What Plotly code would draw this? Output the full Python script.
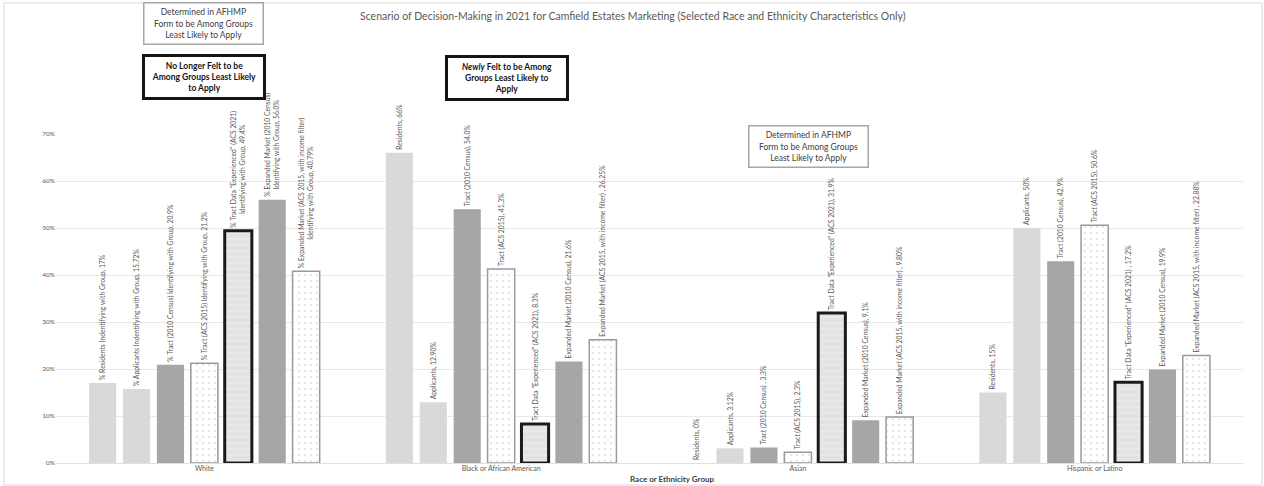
import plotly.graph_objects as go

# Race / ethnicity groups on the category axis
categories = ["White", "Black or African American", "Asian", "Hispanic or Latino"]

# Percent of each group, one list per measure (kept as text so labels quote them exactly)
residents = ["17", "66", "0", "15"]
applicants = ["15.72", "12.90", "3.12", "50"]
tract_2010 = ["20.9", "54.0", "3.3", "42.9"]
tract_acs2015 = ["21.2", "41.3", "2.3", "50.6"]
tract_experienced = ["49.4", "8.3", "31.9", "17.2"]
expanded_2010 = ["56.0", "21.6", "9.1", "19.9"]
expanded_acs2015 = ["40.79", "26.25", "9.80", "22.88"]

# Label wording for each measure, per group
residents_lbl = ["% Residents Indentifying with Group, ", "Residents, ", "Residents, ", "Residents, "]
applicants_lbl = ["% Applicants Indentifying with Group, ", "Applicants, ", "Applicants, ", "Applicants, "]
tract_2010_lbl = ["% Tract (2010 Census) Identifying with Group, ", "Tract (2010 Census), ",
                  "Tract (2010 Census) , ", "Tract (2010 Census), "]
tract_acs2015_lbl = ["% Tract (ACS 2015) Identifying with Group, ", "Tract (ACS 2015), ",
                     "Tract (ACS 2015), ", "Tract (ACS 2015), "]
tract_experienced_lbl = ['% Tract Data "Experienced" (ACS 2021)<br>Identifying with Group, ',
                         'Tract Data "Experienced" (ACS 2021), ',
                         'Tract Data "Experienced" (ACS 2021), ',
                         'Tract Data "Experienced" (ACS 2021) , ']
expanded_2010_lbl = ["% Expanded Market (2010 Census)<br>Identifying with Group, ",
                     "Expanded Market (2010 Census), ", "Expanded Market (2010 Census), ",
                     "Expanded Market (2010 Census), "]
expanded_acs2015_lbl = ["% Expanded Market (ACS 2015, with income filter)<br>Identifying with Group, ",
                        "Expanded Market (ACS 2015, with income filter) , ",
                        "Expanded Market (ACS 2015, with income filter) , ",
                        "Expanded Market (ACS 2015, with income filter) , "]

FONT = "Lato"
LIGHT = "#d9d9d9"
MID = "#a6a6a6"

dots = dict(shape=".", fgcolor="#8c8c8c", bgcolor="white", size=6, solidity=0.06)
dashes = dict(shape="-", fgcolor="#f6f6f6", bgcolor="#e3e3e3", size=6, solidity=0.2)

series = [
    (residents, residents_lbl, dict(color=LIGHT, line=dict(width=0))),
    (applicants, applicants_lbl, dict(color=LIGHT, line=dict(width=0))),
    (tract_2010, tract_2010_lbl, dict(color=MID, line=dict(width=0))),
    (tract_acs2015, tract_acs2015_lbl, dict(color="white", pattern=dots,
                                            line=dict(color="#9a9a9a", width=1.5))),
    (tract_experienced, tract_experienced_lbl, dict(color="#e3e3e3", pattern=dashes,
                                                    line=dict(color="#1a1a1a", width=3))),
    (expanded_2010, expanded_2010_lbl, dict(color=MID, line=dict(width=0))),
    (expanded_acs2015, expanded_acs2015_lbl, dict(color="white", pattern=dots,
                                                  line=dict(color="#9a9a9a", width=1.5))),
]

fig = go.Figure()
for vals, lbls, marker in series:
    fig.add_trace(go.Bar(
        x=categories,
        y=[float(v) for v in vals],
        text=[l + v + "%" for l, v in zip(lbls, vals)],
        textposition="outside",
        textangle=-90,
        constraintext="none",
        cliponaxis=False,
        textfont=dict(family=FONT, size=6.8, color="#595959"),
        marker=marker,
        hoverinfo="skip",
        showlegend=False,
    ))

# plot area: x 56..1243 px, y 134..463 px
def px_x(p):
    return (p - 56) / 1187

def px_y(p):
    return (463 - p) / 329

box_font = dict(family=FONT, size=8.5, color="#404040")
bold_font = dict(family=FONT, size=8.5, color="#141414")
annotations = [
    dict(text="Determined in AFHMP<br>Form to be Among Groups<br>Least Likely to Apply",
         x=px_x(203.5), y=px_y(23.5), font=box_font,
         bordercolor="#a6a6a6", borderwidth=1.5),
    dict(text="<b>No Longer Felt to be<br>Among Groups Least Likely<br>to Apply</b>",
         x=px_x(203.5), y=px_y(77.5), font=bold_font,
         bordercolor="#141414", borderwidth=3),
    dict(text="<i><b>Newly</b></i><b> Felt to be Among<br>Groups Least Likely to<br>Apply</b>",
         x=px_x(506.5), y=px_y(78), font=bold_font,
         bordercolor="#141414", borderwidth=3),
    dict(text="Determined in AFHMP<br>Form to be Among Groups<br>Least Likely to Apply",
         x=px_x(808), y=px_y(146), font=box_font,
         bordercolor="#a6a6a6", borderwidth=1.5),
]
for a in annotations:
    a.update(xref="paper", yref="paper", showarrow=False, bgcolor="white",
             width=114, height=36, borderpad=2, align="center",
             xanchor="center", yanchor="middle")

annotations.append(dict(
    text="Scenario of Decision-Making in 2021 for Camfield Estates Marketing "
         "(Selected Race and Ethnicity Characteristics Only)",
    xref="paper", yref="paper", x=px_x(633), y=px_y(16), showarrow=False,
    font=dict(family=FONT, size=10.5, color="#595959"),
    xanchor="center", yanchor="middle"))
annotations.append(dict(
    text="<b>Race or Ethnicity Group</b>",
    xref="paper", yref="paper", x=px_x(673), y=px_y(479), showarrow=False,
    font=dict(family=FONT, size=8, color="#404040"),
    xanchor="center", yanchor="middle"))

fig.update_layout(
    width=1264, height=486,
    margin=dict(l=56, r=21, t=134, b=23, autoexpand=False),
    paper_bgcolor="white", plot_bgcolor="white",
    barmode="group", bargap=0.2, bargroupgap=0.2,
    font=dict(family=FONT, color="#595959"),
    annotations=annotations,
    shapes=[dict(type="rect", xref="paper", yref="paper",
                 x0=px_x(4), x1=px_x(1262), y0=px_y(485), y1=px_y(3),
                 line=dict(color="#d9d9d9", width=1), layer="below")],
)
fig.update_xaxes(showline=False, ticks="", showgrid=False,
                 tickfont=dict(family=FONT, size=7, color="#595959"),
                 automargin=False)
fig.update_yaxes(range=[0, 70], dtick=10, ticksuffix="%", showline=False,
                 gridcolor="#e8e8e8", gridwidth=1, zeroline=True,
                 zerolinecolor="#e0e0e0", zerolinewidth=1,
                 tickfont=dict(family=FONT, size=6.5, color="#595959"),
                 automargin=False)

fig.write_html("out.html")
